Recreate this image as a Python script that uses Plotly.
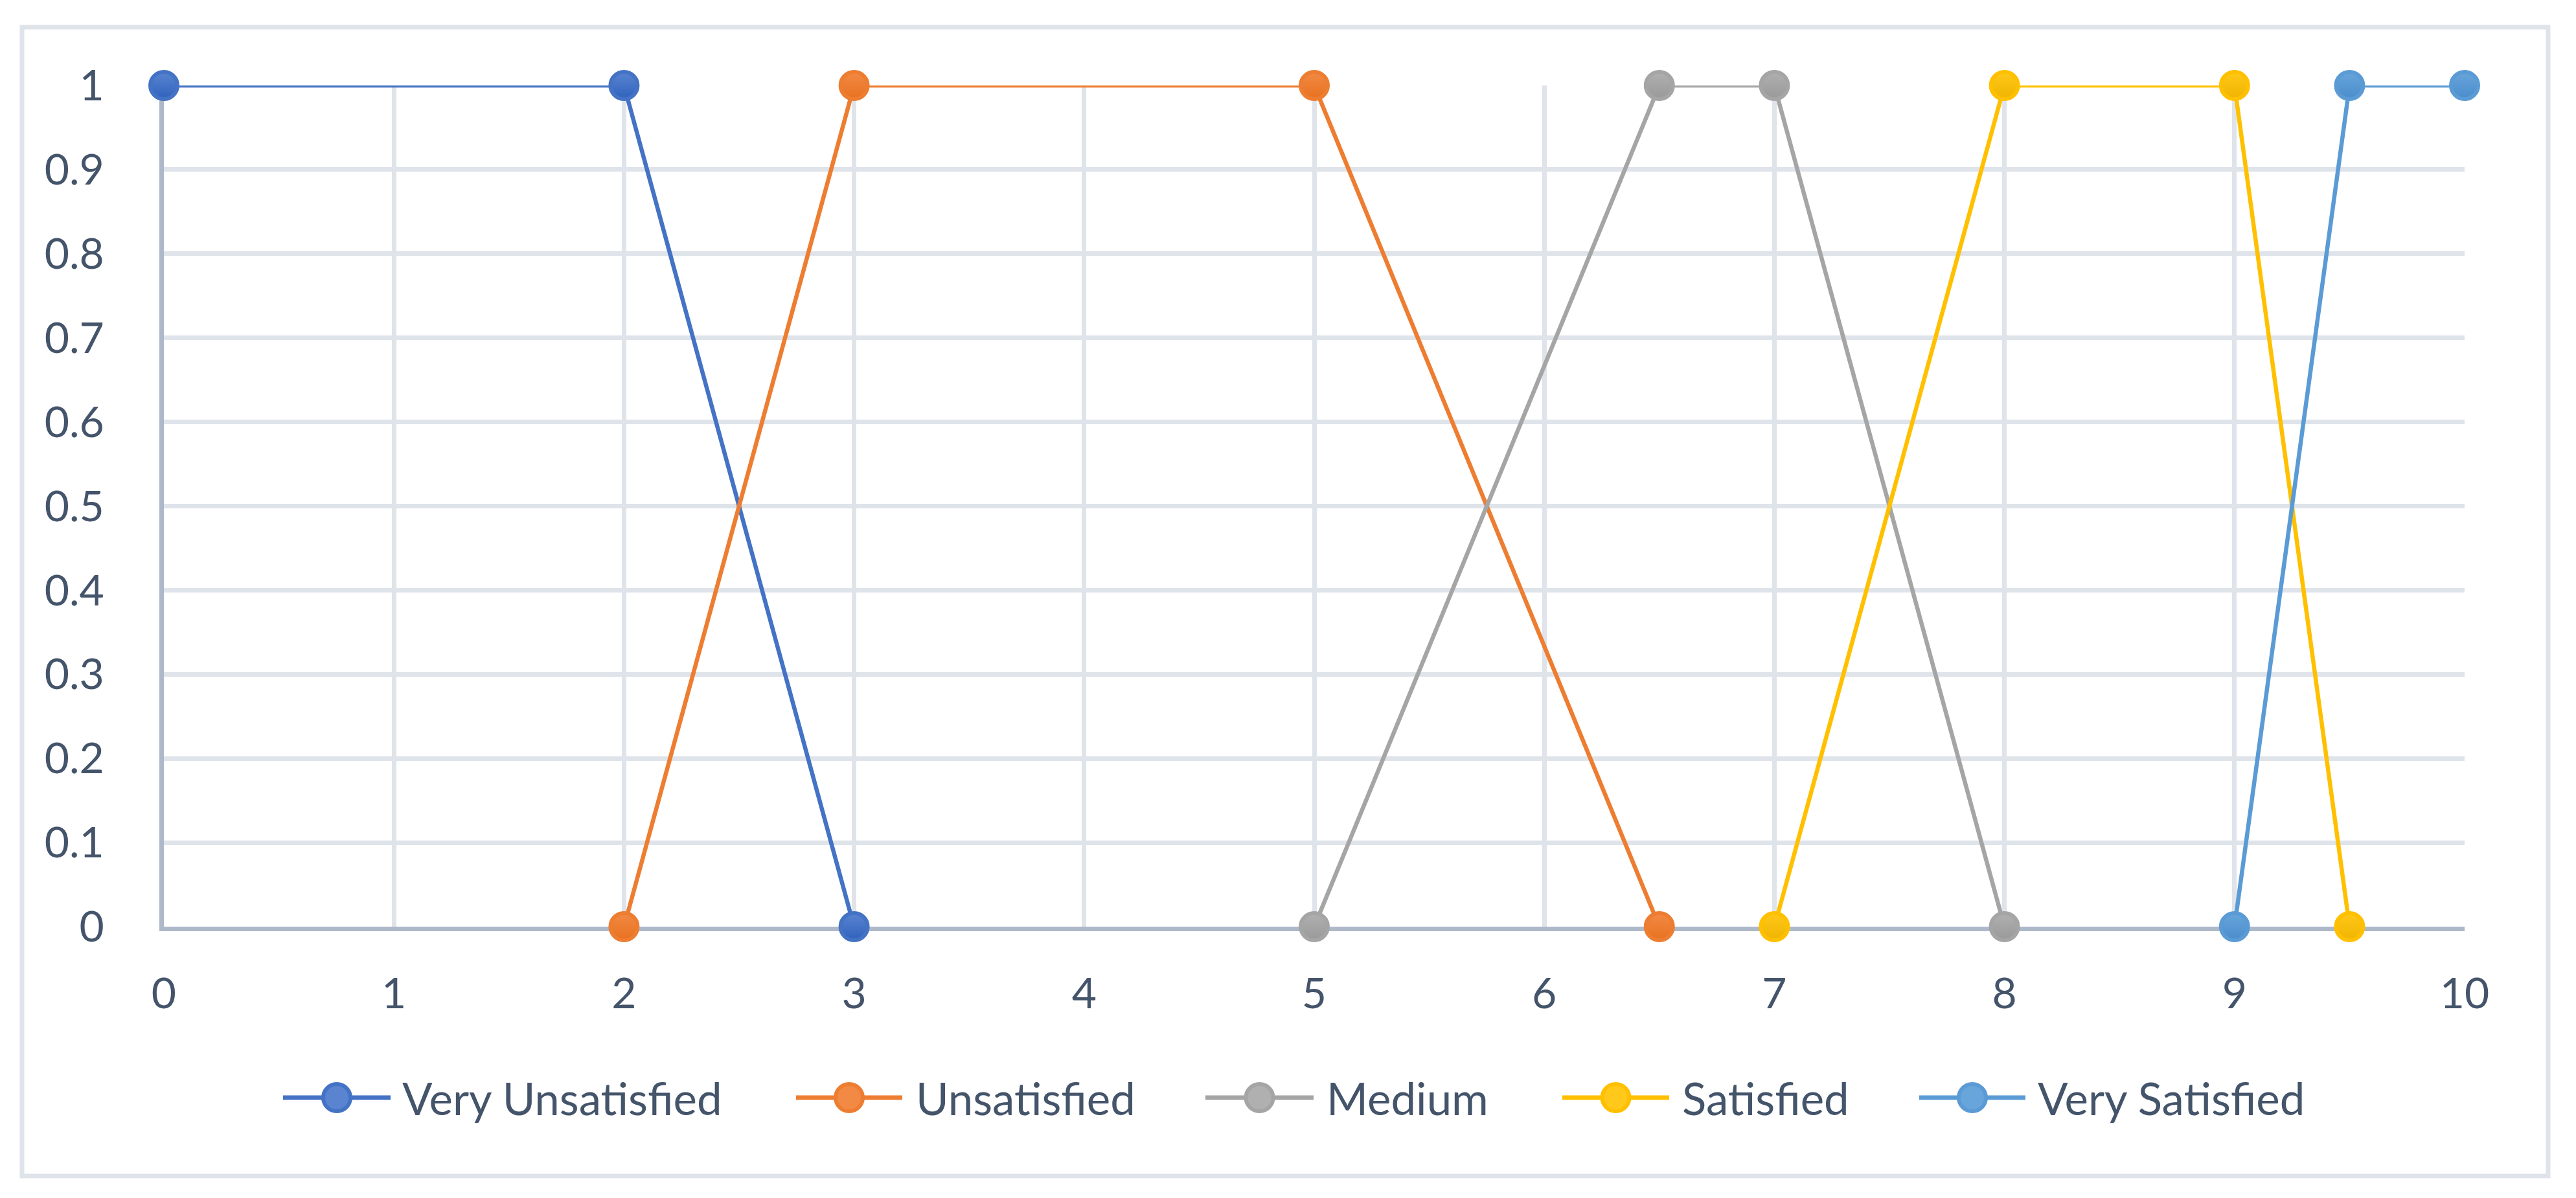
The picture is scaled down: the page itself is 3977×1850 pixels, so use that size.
import plotly.graph_objects as go

# ---- data ----
series_names = ["Very Unsatisfied", "Unsatisfied", "Medium", "Satisfied", "Very Satisfied"]
x_very_unsat = [0, 2, 3]
y_very_unsat = [1, 1, 0]
x_unsat = [2, 3, 5, 6.5]
y_unsat = [0, 1, 1, 0]
x_medium = [5, 6.5, 7, 8]
y_medium = [0, 1, 1, 0]
x_sat = [7, 8, 9, 9.5]
y_sat = [0, 1, 1, 0]
x_very_sat = [9, 9.5, 10]
y_very_sat = [0, 1, 1]
x_ticks = [0, 1, 2, 3, 4, 5, 6, 7, 8, 9, 10]
y_ticks = [0, 0.1, 0.2, 0.3, 0.4, 0.5, 0.6, 0.7, 0.8, 0.9, 1]

colors = ["#4472C4", "#ED7D31", "#A5A5A5", "#FFC000", "#5B9BD5"]
light = ["#5a84d0", "#f28a45", "#b0b0b0", "#ffc81a", "#68a5db"]
dark = ["#2f62bd", "#e8711f", "#999999", "#f0b400", "#4a8ccb"]

# page offset (body margin of the html page)
OFF = 8
W, H = 3977 - 2 * OFF, 1850 - 2 * OFF
# plot area in page pixels
PX0, PX1 = 253, 3805
PY0, PY1 = 132, 1431
L = PX0 - OFF
T = PY0 - OFF
R = W - (PX1 - OFF)
B = H - (PY1 - OFF)
PW, PH = PX1 - PX0, PY1 - PY0
FONT = "Lato, Carlito, 'Open Sans', sans-serif"
TXT = "#44546a"


def px(xp):  # page x -> paper
    return (xp - PX0) / PW


def py(yp):  # page y -> paper
    return (PY1 - yp) / PH


fig = go.Figure()
data = [(x_very_unsat, y_very_unsat), (x_unsat, y_unsat), (x_medium, y_medium),
        (x_sat, y_sat), (x_very_sat, y_very_sat)]
for name, (xs, ys), c, lc, d in zip(series_names, data, colors, light, dark):
    fig.add_trace(go.Scatter(
        x=xs, y=ys, name=name, mode="lines+markers",
        line=dict(color=c, width=6.5),
        marker=dict(size=42, color=lc, line=dict(color=c, width=6),
                    gradient=dict(type="vertical", color=d)),
        cliponaxis=False, showlegend=False,
    ))

# custom legend (Excel style: long line sample with marker in the middle)
shapes = []
annotations = []
leg_y = 1695
leg_items = [(437, 603, 619), (1229, 1393, 1412), (1861, 2028, 2046),
             (2412, 2577, 2595), (2963, 3127, 3144)]
for name, (x0, x1, xt), c, lc in zip(series_names, leg_items, colors, light):
    shapes.append(dict(type="line", xref="paper", yref="paper",
                       x0=px(x0), x1=px(x1), y0=py(leg_y), y1=py(leg_y),
                       line=dict(color=c, width=7)))
    shapes.append(dict(type="circle", xref="paper", yref="paper",
                       xsizemode="pixel", ysizemode="pixel",
                       xanchor=px((x0 + x1) / 2), yanchor=py(leg_y),
                       x0=-21, x1=21, y0=-21, y1=21,
                       fillcolor=lc, line=dict(color=c, width=6)))
    annotations.append(dict(text=name, xref="paper", yref="paper",
                            x=px(xt), y=py(leg_y), xanchor="left", yanchor="middle",
                            showarrow=False, font=dict(family=FONT, size=69, color=TXT)))

# outer chart border
shapes.append(dict(type="rect", xref="paper", yref="paper",
                   x0=px(34), x1=px(3934), y0=py(1816), y1=py(42),
                   line=dict(color="#dfe3ea", width=7), layer="below"))

grid = "#dfe3ea"
axis = "#adb8c9"
fig.update_layout(
    width=W, height=H,
    margin=dict(l=L, r=R, t=T, b=B),
    paper_bgcolor="white", plot_bgcolor="white",
    font=dict(family=FONT, size=66, color=TXT),
    shapes=shapes, annotations=annotations,
    xaxis=dict(range=[0, 10], tickvals=x_ticks, ticktext=[str(v) for v in x_ticks],
               showgrid=True, gridcolor=grid, gridwidth=7,
               showline=True, linecolor=axis, linewidth=7,
               zeroline=False, ticks="", ticklabelstandoff=40,
               layer="below traces", tickfont=dict(size=66, color=TXT)),
    yaxis=dict(range=[0, 1], tickvals=y_ticks, ticktext=[f"{v:g}" for v in y_ticks],
               showgrid=True, gridcolor=grid, gridwidth=7,
               showline=True, linecolor=axis, linewidth=7,
               zeroline=False, ticks="", ticklabelstandoff=72,
               layer="below traces", tickfont=dict(size=66, color=TXT)),
)

fig.write_html("out.html")
